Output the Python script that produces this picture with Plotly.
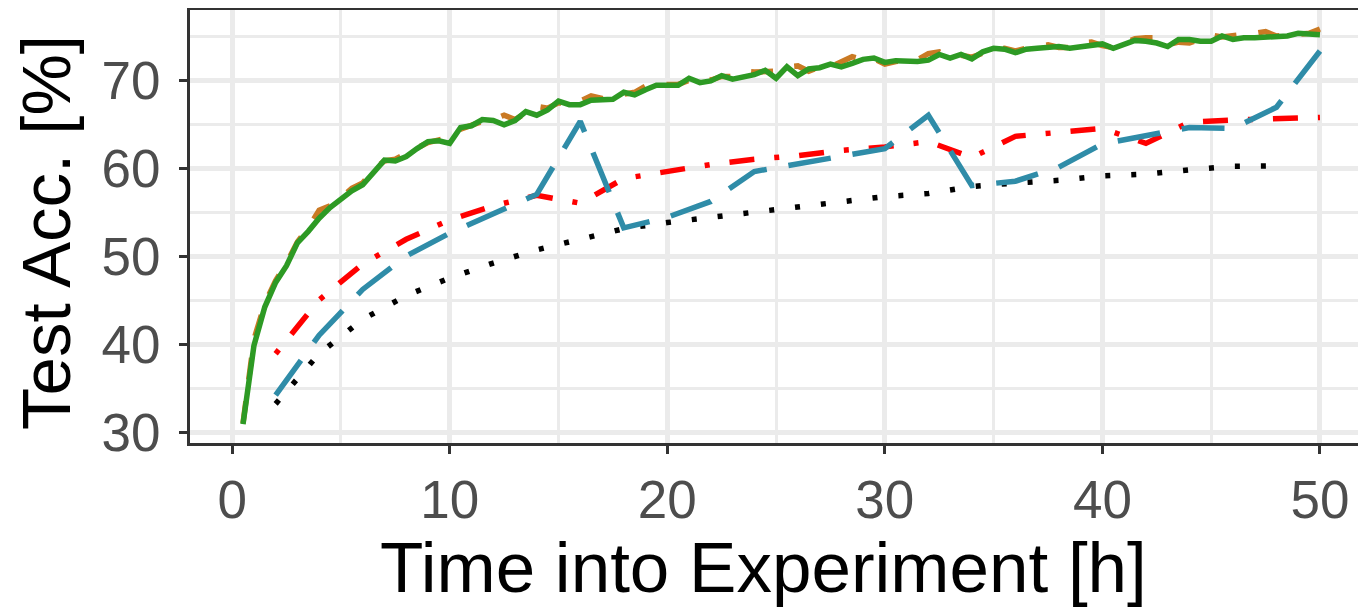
import plotly.graph_objects as go

# ---- data ----
hours_fine = [i / 2 for i in range(1, 101)]  # 0.5 .. 50.0 h
green_acc = [30.9, 39.8, 44.2, 47.0, 48.9, 51.5, 52.8, 54.3, 55.5, 56.5,
             57.4, 58.1, 59.6, 60.9, 60.8, 61.3, 62.2, 63.0, 63.1, 62.8,
             64.6, 64.8, 65.5, 65.4, 64.9, 65.4, 66.4, 66.0, 66.6, 67.6,
             67.2, 67.2, 67.7, 67.8, 67.8, 68.6, 68.3, 68.9, 69.4, 69.4,
             69.4, 70.2, 69.7, 69.9, 70.5, 70.1, 70.4, 70.6, 71.1, 70.2,
             71.5, 70.5, 71.25, 71.4, 71.8, 71.5, 71.9, 72.35, 72.5, 72.0,
             72.2, 72.1, 72.1, 72.25, 72.9, 72.5, 72.9, 72.4, 73.2, 73.6,
             73.5, 73.1, 73.5, 73.6, 73.65, 73.8, 73.6, 73.75, 74.0, 74.1,
             73.6, 74.1, 74.5, 74.4, 74.2, 73.8, 74.6, 74.6, 74.4, 74.4,
             75.0, 74.6, 74.8, 74.8, 74.85, 74.9, 75.0, 75.3, 75.3, 75.15]
orange_acc = [31.0, 40.5, 44.6, 47.2, 49.2, 51.6, 53.2, 55.2, 55.7, 56.6,
              57.7, 58.3, 59.8, 60.8, 61.0, 61.6, 62.3, 62.9, 63.2, 63.4,
              64.4, 64.9, 65.3, 65.5, 66.0, 65.5, 66.3, 67.0, 66.8, 67.4,
              67.3, 67.6, 68.2, 67.9, 68.0, 68.4, 68.6, 69.3, 69.3, 69.5,
              69.5, 70.0, 70.4, 70.0, 70.4, 70.4, 71.0, 70.9, 70.9, 71.0,
              71.5, 71.6, 71.0, 71.5, 71.5, 72.0, 72.65, 72.3, 72.4, 71.8,
              72.1, 72.2, 72.3, 73.0, 73.2, 72.6, 72.8, 72.6, 73.0, 73.5,
              73.6, 73.3, 73.6, 73.8, 74.0, 73.7, 73.7, 74.2, 74.3, 73.9,
              73.7, 74.2, 74.7, 74.8, 74.8, 74.0, 74.3, 74.2, 74.6, 75.1,
              74.9, 75.1, 75.2, 75.3, 75.5, 75.0, 75.1, 75.2, 75.3, 75.8]

hours_2h = list(range(2, 51, 2))
red_acc = [38.9, 45.0, 49.1, 51.9, 54.1, 55.7, 56.9, 56.0, 58.8, 59.6,
           60.4, 61.0, 61.4, 62.0, 62.4, 63.0, 61.2, 63.6, 64.1, 64.5,
           62.8, 65.2, 65.45, 65.55, 65.75]
blue_acc = [34.2, 41.0, 46.2, 50.0, 52.6, 54.8, 57.0, 65.3, 53.2, 54.4,
            56.2, 59.6, 60.5, 61.4, 62.2, 66.0, 58.0, 58.5, 60.1, 62.75,
            63.75, 64.6, 64.5, 66.9, 73.3]

hours_black = list(range(2, 49, 2))
black_acc = [33.2, 38.9, 42.8, 45.5, 47.5, 49.2, 50.7, 51.9, 53.1, 53.8,
             54.4, 55.0, 55.6, 56.3, 56.75, 57.1, 57.9, 58.3, 58.6, 59.1,
             59.3, 59.8, 60.2, 60.25]

x_ticks = [0, 10, 20, 30, 40, 50]
y_ticks = [30, 40, 50, 60, 70]
x_title = "Time into Experiment [h]"
y_title = "Test Acc. [%]"

# ---- figure ----
LW = 5.5
fig = go.Figure()
fig.add_trace(go.Scatter(x=hours_black, y=black_acc, mode="lines",
                         line=dict(color="#000000", width=LW, dash="5px,21px")))
fig.add_trace(go.Scatter(x=hours_2h, y=red_acc, mode="lines",
                         line=dict(color="#FF0000", width=LW, dash="5px,20px,25px,20px")))
fig.add_trace(go.Scatter(x=hours_2h, y=blue_acc, mode="lines",
                         line=dict(color="#2F8CA8", width=LW, dash="43px,22px")))
fig.add_trace(go.Scatter(x=hours_fine, y=orange_acc, mode="lines",
                         line=dict(color="#CA7A24", width=LW, dash="22px,22px")))
fig.add_trace(go.Scatter(x=hours_fine, y=green_acc, mode="lines",
                         line=dict(color="#2D9A24", width=LW)))

grid_major = "#EBEBEB"
fig.update_layout(
    width=1366, height=608,
    margin=dict(l=182, r=4, t=2, b=173),
    plot_bgcolor="white", paper_bgcolor="white",
    showlegend=False,
    font=dict(family="Liberation Sans, Arial, sans-serif", color="#4D4D4D"),
    xaxis=dict(
        range=[-1.937, 52.3], tickvals=x_ticks, ticktext=[str(v) for v in x_ticks],
        automargin=False,
        showgrid=True, gridcolor=grid_major, gridwidth=5,
        minor=dict(tickvals=[5, 15, 25, 35, 45], showgrid=True,
                   gridcolor=grid_major, gridwidth=3),
        showline=True, linecolor="#333333", linewidth=3, mirror=True,
        ticks="outside", ticklen=8, tickwidth=3, tickcolor="#333333",
        tickfont=dict(size=53, color="#4D4D4D"),
        zeroline=False,
    ),
    yaxis=dict(
        range=[28.75, 77.955], tickvals=y_ticks, ticktext=[str(v) for v in y_ticks],
        automargin=False,
        showgrid=True, gridcolor=grid_major, gridwidth=5,
        minor=dict(tickvals=[35, 45, 55, 65, 75], showgrid=True,
                   gridcolor=grid_major, gridwidth=3),
        showline=True, linecolor="#333333", linewidth=3, mirror=False,
        ticks="outside", ticklen=8, tickwidth=3, tickcolor="#333333",
        tickfont=dict(size=53, color="#4D4D4D"),
        ticklabelstandoff=8,
        zeroline=False,
    ),
    annotations=[
        dict(text=x_title, xref="paper", yref="paper", x=0.4856, y=-0.2864,
             xanchor="center", yanchor="middle", showarrow=False,
             font=dict(size=71, color="#000000")),
        dict(text=y_title, xref="paper", yref="paper", x=-0.1212, y=0.4873,
             xanchor="center", yanchor="middle", textangle=-90, showarrow=False,
             font=dict(size=69, color="#000000")),
    ],
)

fig.write_html("out.html")
